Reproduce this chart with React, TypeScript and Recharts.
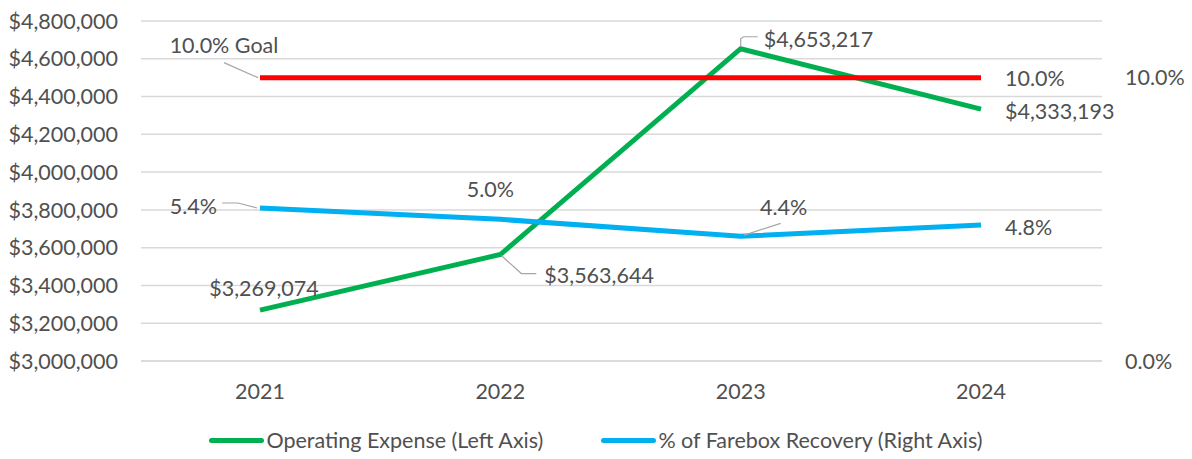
import { LineChart, Line, XAxis, YAxis, CartesianGrid, Legend, LabelList } from 'recharts';

const years = ['2021', '2022', '2023', '2024'];
const operatingExpense = [3269074, 3563644, 4653217, 4333193];
const fareboxRecovery = [0.054, 0.05, 0.044, 0.048];
const goalRate = [0.1, 0.1, 0.1, 0.1];
const leftTicks = [3000000, 3200000, 3400000, 3600000, 3800000, 4000000, 4200000, 4400000, 4600000, 4800000];
const rightTicks = [0, 0.1];
const seriesNames = ['Operating Expense (Left Axis)', '% of Farebox Recovery (Right Axis)'];

const GREEN = '#00B050';
const BLUE = '#00B0F0';
const RED = '#FF0000';
const TEXT = '#505050';
const FONT = "Lato, 'Open Sans', sans-serif";
const FS = 21.5;

const data = years.map((year, i) => ({
  year,
  expense: operatingExpense[i],
  farebox: fareboxRecovery[i],
  goal: goalRate[i],
}));

const money = (v: number) => '$' + v.toLocaleString('en-US');
const pct = (v: number) => (v * 100).toFixed(1) + '%';

type Place = { dx: number; dy: number; anchor: 'start' | 'middle' | 'end'; leader?: number[][] } | null;

// label placements relative to the point, like excel's dragged data labels
const expensePlaces: Place[] = [
  { dx: 4, dy: -22, anchor: 'middle' },
  { dx: 44, dy: 20, anchor: 'start', leader: [[1, 1], [21, 19], [36, 19]] },
  { dx: 23, dy: -10, anchor: 'start', leader: [[0, -2], [0, -10], [3, -12], [17, -12]] },
  { dx: 24, dy: 2, anchor: 'start' },
];
const fareboxPlaces: Place[] = [
  { dx: -43, dy: -2, anchor: 'end', leader: [[-38, -5], [-22, -5], [-3, 0]] },
  { dx: -10, dy: -30, anchor: 'middle' },
  { dx: 43, dy: -29, anchor: 'middle', leader: [[3, -1], [40, -13]] },
  { dx: 24, dy: 2, anchor: 'start' },
];
const goalPlaces: Place[] = [
  { dx: -36, dy: -33, anchor: 'middle', leader: [[-36, -15], [-2, 0]] },
  null,
  null,
  { dx: 24, dy: 0, anchor: 'start' },
];

function makeLabel(places: Place[], fmt: (v: number, i: number) => string) {
  return (props: any) => {
    const { x, y, value, index } = props;
    const p = places[index];
    if (!p) return null;
    return (
      <g>
        {p.leader && (
          <polyline
            points={p.leader.map(([a, b]) => `${x + a},${y + b}`).join(' ')}
            fill="none"
            stroke="#A6A6A6"
            strokeWidth={1.2}
          />
        )}
        <text
          x={x + p.dx}
          y={y + p.dy}
          textAnchor={p.anchor}
          dominantBaseline="central"
          fill={TEXT}
          fontSize={FS}
          fontFamily={FONT}
        >
          {fmt(value, index)}
        </text>
      </g>
    );
  };
}

function LegendBox() {
  const colors = [GREEN, BLUE];
  return (
    <div style={{ display: 'flex', justifyContent: 'center', alignItems: 'center', height: 30, gap: 58, fontFamily: FONT, fontSize: FS, color: TEXT }}>
      {seriesNames.map((name, i) => (
        <div key={name} style={{ display: 'flex', alignItems: 'center' }}>
          <span style={{ display: 'inline-block', width: 55, height: 5, borderRadius: 3, background: colors[i], marginRight: 2 }} />
          <span>{name}</span>
        </div>
      ))}
    </div>
  );
}

export default function App() {
  return (
    <div style={{ position: 'absolute', left: 0, top: 0, background: '#fff' }}>
      <LineChart width={1192} height={459} data={data} margin={{ top: 21, right: 0, bottom: 4, left: 0 }}>
        <CartesianGrid yAxisId="left" vertical={false} stroke="#D9D9D9" strokeWidth={1.5} />
        <XAxis
          dataKey="year"
          axisLine={{ stroke: '#D9D9D9', strokeWidth: 1.5 }}
          tickLine={false}
          tickSize={0}
          tickMargin={23}
          height={64}
          padding={{ left: 119, right: 121 }}
          tick={{ fill: TEXT, fontSize: FS, fontFamily: FONT }}
        />
        <YAxis
          yAxisId="left"
          width={141}
          domain={[3000000, 4800000]}
          ticks={leftTicks}
          tickFormatter={money}
          axisLine={false}
          tickLine={false}
          tickSize={0}
          tickMargin={23}
          tick={{ fill: TEXT, fontSize: FS, fontFamily: FONT }}
        />
        <YAxis
          yAxisId="right"
          orientation="right"
          width={90}
          domain={[0, 0.12]}
          ticks={rightTicks}
          tickFormatter={pct}
          axisLine={false}
          tickLine={false}
          tickSize={0}
          tickMargin={23}
          tick={{ fill: TEXT, fontSize: FS, fontFamily: FONT }}
        />
        <Legend verticalAlign="bottom" content={<LegendBox />} />
        <Line yAxisId="left" dataKey="expense" stroke={GREEN} strokeWidth={5} dot={false} isAnimationActive={false}>
          <LabelList dataKey="expense" content={makeLabel(expensePlaces, (v) => money(v))} />
        </Line>
        <Line yAxisId="right" dataKey="farebox" stroke={BLUE} strokeWidth={5} dot={false} isAnimationActive={false}>
          <LabelList dataKey="farebox" content={makeLabel(fareboxPlaces, (v) => pct(v))} />
        </Line>
        <Line yAxisId="right" dataKey="goal" stroke={RED} strokeWidth={5} dot={false} legendType="none" isAnimationActive={false}>
          <LabelList dataKey="goal" content={makeLabel(goalPlaces, (v, i) => (i === 0 ? pct(v) + ' Goal' : pct(v)))} />
        </Line>
      </LineChart>
    </div>
  );
}
